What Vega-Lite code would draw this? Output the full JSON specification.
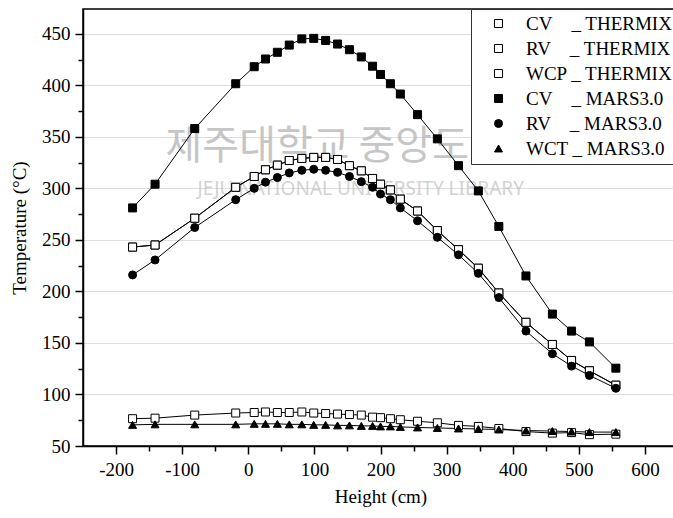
{
  "$schema": "https://vega.github.io/schema/vega-lite/v6.json",
  "width": 595,
  "height": 437,
  "autosize": {"type": "none"},
  "padding": {"left": 83, "top": 9, "right": 0, "bottom": 72},
  "config": {
    "font": "Liberation Serif",
    "view": {"stroke": "black", "strokeWidth": 1.5},
    "axis": {
      "domainColor": "black",
      "domainWidth": 1.5,
      "tickColor": "black",
      "tickWidth": 1.5,
      "labelFont": "Liberation Serif",
      "labelFontSize": 19,
      "labelColor": "black",
      "titleFont": "Liberation Serif",
      "titleFontSize": 19,
      "titleFontWeight": "normal",
      "titleColor": "black",
      "grid": false
    }
  },
  "layer": [
    {
      "data": {
        "values": [
          {"wx": 160, "wy": 340, "mark_text": "제주대학교 중앙도서관"}
        ]
      },
      "mark": {"type": "text", "font": "Noto Sans CJK KR", "fontSize": 40, "color": "#b4b4b4", "opacity": 0.75, "align": "center", "baseline": "middle"},
      "encoding": {
        "x": {"field": "wx", "type": "quantitative", "axis": null},
        "y": {"field": "wy", "type": "quantitative", "axis": null},
        "text": {"field": "mark_text"}
      }
    },
    {
      "data": {
        "values": [
          {"wx": 170, "wy": 299, "mark_text": "JEJU NATIONAL UNIVERSITY LIBRARY"}
        ]
      },
      "mark": {"type": "text", "font": "Noto Sans", "fontSize": 19, "color": "#c4c4c4", "opacity": 0.75, "align": "center", "baseline": "middle"},
      "encoding": {
        "x": {"field": "wx", "type": "quantitative", "axis": null},
        "y": {"field": "wy", "type": "quantitative", "axis": null},
        "text": {"field": "mark_text"}
      }
    },
    {
      "data": {"name": "temps"},
      "mark": {"type": "line", "color": "black", "strokeWidth": 1},
      "encoding": {
        "x": {
          "field": "height", "type": "quantitative",
          "scale": {"domain": [-250, 650], "nice": false, "zero": false},
          "axis": {"orient": "bottom", "values": [-150, -50, 50, 150, 250, 350, 450, 550], "labels": false, "domain": false, "tickSize": 5, "title": null}
        },
        "y": {
          "field": "temp", "type": "quantitative",
          "scale": {"domain": [50, 474], "nice": false, "zero": false},
          "axis": {"orient": "left", "values": [75, 125, 175, 225, 275, 325, 375, 425], "labels": false, "domain": false, "tickSize": 5, "title": null}
        },
        "detail": {"field": "series", "type": "nominal"},
        "order": {"field": "height", "type": "quantitative"}
      }
    },
    {
      "data": {"name": "temps"},
      "mark": {"type": "point", "filled": true, "stroke": "black", "strokeWidth": 1, "opacity": 1},
      "encoding": {
        "x": {
          "field": "height", "type": "quantitative",
          "axis": {"orient": "bottom", "values": [-200, -100, 0, 100, 200, 300, 400, 500, 600], "tickSize": 8, "labelPadding": 6, "labelExpr": "datum.value + ''", "title": "Height (cm)", "titlePadding": 8}
        },
        "y": {
          "field": "temp", "type": "quantitative",
          "axis": {"orient": "left", "values": [50, 100, 150, 200, 250, 300, 350, 400, 450], "tickSize": 8, "labelPadding": 5, "title": "Temperature (°C)", "titlePadding": 12, "grid": true, "gridColor": "#bdbdbd", "gridDash": [1, 1], "gridWidth": 1}
        },
        "shape": {
          "field": "series", "type": "nominal",
          "scale": {
            "domain": ["CV _ THERMIX", "RV _ THERMIX", "WCP _ THERMIX", "CV _ MARS3.0", "RV _ MARS3.0", "WCT _ MARS3.0"],
            "range": ["square", "square", "square", "square", "circle", "triangle-up"]
          },
          "legend": {
            "title": null,
            "orient": "top-right",
            "offset": 0,
            "strokeColor": "#333333",
            "fillColor": "white",
            "padding": 5,
            "rowPadding": 5,
            "symbolSize": 100,
            "symbolOffset": 13,
            "symbolStrokeColor": "black",
            "symbolStrokeWidth": 1,
            "labelOffset": 18,
            "labelFont": "Liberation Serif",
            "labelFontSize": 19,
            "labelColor": "black",
            "labelLimit": 400,
            "labelExpr": "replace(replace(datum.label, 'CV _', 'CV\u00a0\u00a0\u00a0\u00a0_'), 'RV _', 'RV\u00a0\u00a0\u00a0\u00a0_')"
          }
        },
        "fill": {
          "field": "series", "type": "nominal",
          "scale": {
            "domain": ["CV _ THERMIX", "RV _ THERMIX", "WCP _ THERMIX", "CV _ MARS3.0", "RV _ MARS3.0", "WCT _ MARS3.0"],
            "range": ["white", "white", "white", "black", "black", "black"]
          }
        },
        "size": {
          "field": "series", "type": "nominal",
          "scale": {
            "domain": ["CV _ THERMIX", "RV _ THERMIX", "WCP _ THERMIX", "CV _ MARS3.0", "RV _ MARS3.0", "WCT _ MARS3.0"],
            "range": [64, 64, 64, 76, 76, 100]
          }
        }
      }
    }
  ],
  "resolve": {"axis": {"x": "independent", "y": "independent"}},
  "datasets": {
    "temps": [
      {"series": "CV _ THERMIX", "height": -175, "temp": 243},
      {"series": "CV _ THERMIX", "height": -141, "temp": 245},
      {"series": "CV _ THERMIX", "height": -81, "temp": 271},
      {"series": "CV _ THERMIX", "height": -19, "temp": 301},
      {"series": "CV _ THERMIX", "height": 9, "temp": 311.5},
      {"series": "CV _ THERMIX", "height": 26, "temp": 318},
      {"series": "CV _ THERMIX", "height": 44, "temp": 322.5},
      {"series": "CV _ THERMIX", "height": 62, "temp": 327},
      {"series": "CV _ THERMIX", "height": 81, "temp": 329},
      {"series": "CV _ THERMIX", "height": 99, "temp": 330},
      {"series": "CV _ THERMIX", "height": 117, "temp": 330},
      {"series": "CV _ THERMIX", "height": 135, "temp": 328},
      {"series": "CV _ THERMIX", "height": 153, "temp": 322},
      {"series": "CV _ THERMIX", "height": 171, "temp": 317},
      {"series": "CV _ THERMIX", "height": 188, "temp": 309.5},
      {"series": "CV _ THERMIX", "height": 200, "temp": 304},
      {"series": "CV _ THERMIX", "height": 215, "temp": 298.5},
      {"series": "CV _ THERMIX", "height": 230, "temp": 289.5},
      {"series": "CV _ THERMIX", "height": 256, "temp": 278},
      {"series": "CV _ THERMIX", "height": 286, "temp": 259},
      {"series": "CV _ THERMIX", "height": 318, "temp": 240.5},
      {"series": "CV _ THERMIX", "height": 348, "temp": 222.5},
      {"series": "CV _ THERMIX", "height": 379, "temp": 198.5},
      {"series": "CV _ THERMIX", "height": 420, "temp": 170},
      {"series": "CV _ THERMIX", "height": 460, "temp": 148.5},
      {"series": "CV _ THERMIX", "height": 489, "temp": 133},
      {"series": "CV _ THERMIX", "height": 516, "temp": 123},
      {"series": "CV _ THERMIX", "height": 556, "temp": 109},

      {"series": "RV _ THERMIX", "height": -175, "temp": 243},
      {"series": "RV _ THERMIX", "height": -141, "temp": 245},
      {"series": "RV _ THERMIX", "height": -81, "temp": 271},
      {"series": "RV _ THERMIX", "height": -19, "temp": 301},
      {"series": "RV _ THERMIX", "height": 9, "temp": 311.5},
      {"series": "RV _ THERMIX", "height": 26, "temp": 318},
      {"series": "RV _ THERMIX", "height": 44, "temp": 322.5},
      {"series": "RV _ THERMIX", "height": 62, "temp": 327},
      {"series": "RV _ THERMIX", "height": 81, "temp": 329},
      {"series": "RV _ THERMIX", "height": 99, "temp": 330},
      {"series": "RV _ THERMIX", "height": 117, "temp": 330},
      {"series": "RV _ THERMIX", "height": 135, "temp": 328},
      {"series": "RV _ THERMIX", "height": 153, "temp": 322},
      {"series": "RV _ THERMIX", "height": 171, "temp": 317},
      {"series": "RV _ THERMIX", "height": 188, "temp": 309.5},
      {"series": "RV _ THERMIX", "height": 200, "temp": 304},
      {"series": "RV _ THERMIX", "height": 215, "temp": 298.5},
      {"series": "RV _ THERMIX", "height": 230, "temp": 289.5},
      {"series": "RV _ THERMIX", "height": 256, "temp": 278},
      {"series": "RV _ THERMIX", "height": 286, "temp": 259},
      {"series": "RV _ THERMIX", "height": 318, "temp": 240.5},
      {"series": "RV _ THERMIX", "height": 348, "temp": 222.5},
      {"series": "RV _ THERMIX", "height": 379, "temp": 198.5},
      {"series": "RV _ THERMIX", "height": 420, "temp": 170},
      {"series": "RV _ THERMIX", "height": 460, "temp": 148.5},
      {"series": "RV _ THERMIX", "height": 489, "temp": 133},
      {"series": "RV _ THERMIX", "height": 516, "temp": 123},
      {"series": "RV _ THERMIX", "height": 556, "temp": 109},

      {"series": "WCP _ THERMIX", "height": -175, "temp": 76.5},
      {"series": "WCP _ THERMIX", "height": -141, "temp": 77},
      {"series": "WCP _ THERMIX", "height": -81, "temp": 80},
      {"series": "WCP _ THERMIX", "height": -19, "temp": 82},
      {"series": "WCP _ THERMIX", "height": 9, "temp": 82.5},
      {"series": "WCP _ THERMIX", "height": 26, "temp": 83},
      {"series": "WCP _ THERMIX", "height": 44, "temp": 82.5},
      {"series": "WCP _ THERMIX", "height": 62, "temp": 82.5},
      {"series": "WCP _ THERMIX", "height": 81, "temp": 83},
      {"series": "WCP _ THERMIX", "height": 99, "temp": 82},
      {"series": "WCP _ THERMIX", "height": 117, "temp": 81.5},
      {"series": "WCP _ THERMIX", "height": 135, "temp": 81},
      {"series": "WCP _ THERMIX", "height": 153, "temp": 80.5},
      {"series": "WCP _ THERMIX", "height": 171, "temp": 80},
      {"series": "WCP _ THERMIX", "height": 188, "temp": 78},
      {"series": "WCP _ THERMIX", "height": 200, "temp": 77.5},
      {"series": "WCP _ THERMIX", "height": 215, "temp": 76.5},
      {"series": "WCP _ THERMIX", "height": 230, "temp": 75.5},
      {"series": "WCP _ THERMIX", "height": 256, "temp": 74},
      {"series": "WCP _ THERMIX", "height": 286, "temp": 72.5},
      {"series": "WCP _ THERMIX", "height": 318, "temp": 70},
      {"series": "WCP _ THERMIX", "height": 348, "temp": 69},
      {"series": "WCP _ THERMIX", "height": 379, "temp": 67},
      {"series": "WCP _ THERMIX", "height": 420, "temp": 64},
      {"series": "WCP _ THERMIX", "height": 460, "temp": 62.5},
      {"series": "WCP _ THERMIX", "height": 489, "temp": 63},
      {"series": "WCP _ THERMIX", "height": 516, "temp": 61},
      {"series": "WCP _ THERMIX", "height": 556, "temp": 61.5},

      {"series": "CV _ MARS3.0", "height": -175, "temp": 281},
      {"series": "CV _ MARS3.0", "height": -141, "temp": 304},
      {"series": "CV _ MARS3.0", "height": -81, "temp": 358},
      {"series": "CV _ MARS3.0", "height": -19, "temp": 401.5},
      {"series": "CV _ MARS3.0", "height": 9, "temp": 418},
      {"series": "CV _ MARS3.0", "height": 26, "temp": 425.5},
      {"series": "CV _ MARS3.0", "height": 44, "temp": 432},
      {"series": "CV _ MARS3.0", "height": 62, "temp": 439},
      {"series": "CV _ MARS3.0", "height": 81, "temp": 445},
      {"series": "CV _ MARS3.0", "height": 99, "temp": 445.5},
      {"series": "CV _ MARS3.0", "height": 117, "temp": 443.5},
      {"series": "CV _ MARS3.0", "height": 135, "temp": 440},
      {"series": "CV _ MARS3.0", "height": 153, "temp": 434.5},
      {"series": "CV _ MARS3.0", "height": 171, "temp": 427.5},
      {"series": "CV _ MARS3.0", "height": 188, "temp": 418.5},
      {"series": "CV _ MARS3.0", "height": 200, "temp": 410.5},
      {"series": "CV _ MARS3.0", "height": 215, "temp": 401.5},
      {"series": "CV _ MARS3.0", "height": 230, "temp": 391.5},
      {"series": "CV _ MARS3.0", "height": 256, "temp": 371.5},
      {"series": "CV _ MARS3.0", "height": 286, "temp": 348},
      {"series": "CV _ MARS3.0", "height": 318, "temp": 322},
      {"series": "CV _ MARS3.0", "height": 348, "temp": 297.5},
      {"series": "CV _ MARS3.0", "height": 379, "temp": 263},
      {"series": "CV _ MARS3.0", "height": 420, "temp": 215},
      {"series": "CV _ MARS3.0", "height": 460, "temp": 178},
      {"series": "CV _ MARS3.0", "height": 489, "temp": 161.5},
      {"series": "CV _ MARS3.0", "height": 516, "temp": 151},
      {"series": "CV _ MARS3.0", "height": 556, "temp": 125.5},

      {"series": "RV _ MARS3.0", "height": -175, "temp": 216},
      {"series": "RV _ MARS3.0", "height": -141, "temp": 230.5},
      {"series": "RV _ MARS3.0", "height": -81, "temp": 262},
      {"series": "RV _ MARS3.0", "height": -19, "temp": 289},
      {"series": "RV _ MARS3.0", "height": 9, "temp": 300},
      {"series": "RV _ MARS3.0", "height": 26, "temp": 306},
      {"series": "RV _ MARS3.0", "height": 44, "temp": 310.5},
      {"series": "RV _ MARS3.0", "height": 62, "temp": 315},
      {"series": "RV _ MARS3.0", "height": 81, "temp": 317.5},
      {"series": "RV _ MARS3.0", "height": 99, "temp": 318.5},
      {"series": "RV _ MARS3.0", "height": 117, "temp": 317.5},
      {"series": "RV _ MARS3.0", "height": 135, "temp": 315.5},
      {"series": "RV _ MARS3.0", "height": 153, "temp": 311.5},
      {"series": "RV _ MARS3.0", "height": 171, "temp": 306.5},
      {"series": "RV _ MARS3.0", "height": 188, "temp": 301},
      {"series": "RV _ MARS3.0", "height": 200, "temp": 294.5},
      {"series": "RV _ MARS3.0", "height": 215, "temp": 289},
      {"series": "RV _ MARS3.0", "height": 230, "temp": 281},
      {"series": "RV _ MARS3.0", "height": 256, "temp": 268.5},
      {"series": "RV _ MARS3.0", "height": 286, "temp": 252.5},
      {"series": "RV _ MARS3.0", "height": 318, "temp": 235.5},
      {"series": "RV _ MARS3.0", "height": 348, "temp": 217.5},
      {"series": "RV _ MARS3.0", "height": 379, "temp": 194},
      {"series": "RV _ MARS3.0", "height": 420, "temp": 161.5},
      {"series": "RV _ MARS3.0", "height": 460, "temp": 139.5},
      {"series": "RV _ MARS3.0", "height": 489, "temp": 127.5},
      {"series": "RV _ MARS3.0", "height": 516, "temp": 118.5},
      {"series": "RV _ MARS3.0", "height": 556, "temp": 106},

      {"series": "WCT _ MARS3.0", "height": -175, "temp": 70.5},
      {"series": "WCT _ MARS3.0", "height": -141, "temp": 71},
      {"series": "WCT _ MARS3.0", "height": -81, "temp": 71},
      {"series": "WCT _ MARS3.0", "height": -19, "temp": 71},
      {"series": "WCT _ MARS3.0", "height": 9, "temp": 71.5},
      {"series": "WCT _ MARS3.0", "height": 26, "temp": 71.5},
      {"series": "WCT _ MARS3.0", "height": 44, "temp": 71.5},
      {"series": "WCT _ MARS3.0", "height": 62, "temp": 71},
      {"series": "WCT _ MARS3.0", "height": 81, "temp": 71},
      {"series": "WCT _ MARS3.0", "height": 99, "temp": 70.5},
      {"series": "WCT _ MARS3.0", "height": 117, "temp": 70.5},
      {"series": "WCT _ MARS3.0", "height": 135, "temp": 70},
      {"series": "WCT _ MARS3.0", "height": 153, "temp": 70},
      {"series": "WCT _ MARS3.0", "height": 171, "temp": 69.5},
      {"series": "WCT _ MARS3.0", "height": 188, "temp": 69.5},
      {"series": "WCT _ MARS3.0", "height": 200, "temp": 69},
      {"series": "WCT _ MARS3.0", "height": 215, "temp": 69},
      {"series": "WCT _ MARS3.0", "height": 230, "temp": 68.5},
      {"series": "WCT _ MARS3.0", "height": 256, "temp": 68},
      {"series": "WCT _ MARS3.0", "height": 286, "temp": 67.5},
      {"series": "WCT _ MARS3.0", "height": 318, "temp": 67},
      {"series": "WCT _ MARS3.0", "height": 348, "temp": 66.5},
      {"series": "WCT _ MARS3.0", "height": 379, "temp": 66},
      {"series": "WCT _ MARS3.0", "height": 420, "temp": 65},
      {"series": "WCT _ MARS3.0", "height": 460, "temp": 64.5},
      {"series": "WCT _ MARS3.0", "height": 489, "temp": 64},
      {"series": "WCT _ MARS3.0", "height": 516, "temp": 63.5},
      {"series": "WCT _ MARS3.0", "height": 556, "temp": 63.5}
    ]
  }
}
